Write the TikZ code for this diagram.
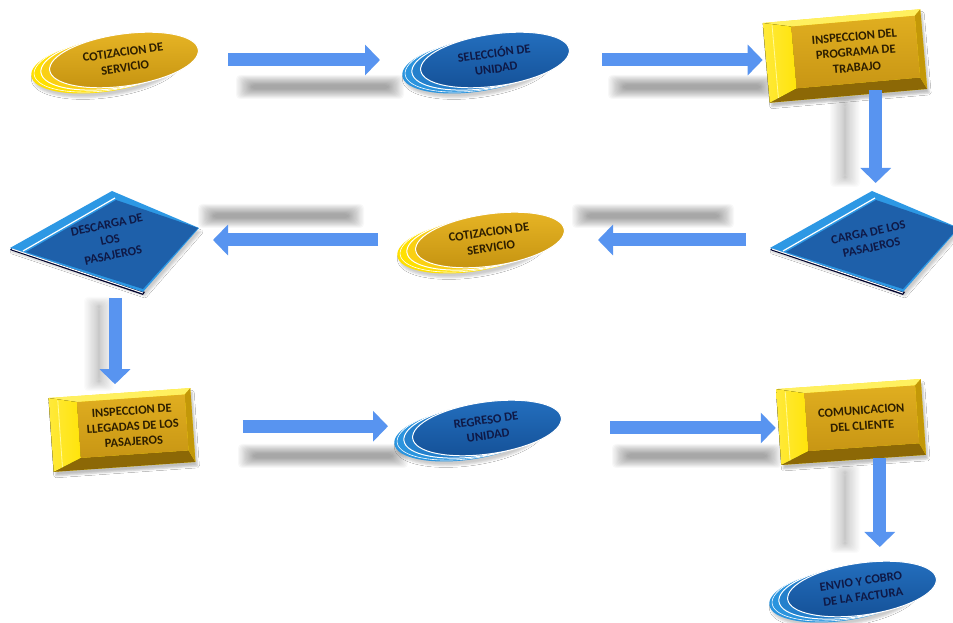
\documentclass[tikz,border=0pt]{standalone}
\usepackage{fontspec}
\setmainfont{Carlito}
\usetikzlibrary{arrows.meta,shapes.geometric,shadows.blur,calc}
\definecolor{yelback}{RGB}{255,224,0}
\definecolor{yelmid}{RGB}{250,208,20}
\definecolor{yeltop}{RGB}{232,182,38}
\definecolor{yelbot}{RGB}{196,146,16}
\definecolor{yeltext}{RGB}{45,30,0}
\definecolor{bluback}{RGB}{42,148,222}
\definecolor{blumid}{RGB}{36,128,204}
\definecolor{blutop}{RGB}{36,112,192}
\definecolor{blubot}{RGB}{20,80,150}
\definecolor{blutext}{RGB}{15,25,70}
\definecolor{arrowblue}{RGB}{88,148,240}
\definecolor{boxtopc}{RGB}{255,240,95}
\definecolor{boxleftc}{RGB}{255,228,10}
\definecolor{boxrightc}{RGB}{195,152,8}
\definecolor{boxbotc}{RGB}{140,104,6}
\definecolor{boxfacetop}{RGB}{224,174,32}
\definecolor{boxfacebot}{RGB}{200,150,20}
\definecolor{diaband}{RGB}{45,152,228}
\definecolor{diaface}{RGB}{30,96,170}
\tikzset{
  labeltext/.style={font=\fontsize{12.5}{15.5}\selectfont\bfseries, align=center},
  egg/.style={ellipse, minimum width=150pt, minimum height=52pt, inner sep=0pt,
    draw=white, line width=1pt, transform shape, labeltext},
  boxface/.style={rectangle, inner sep=0pt, transform shape, labeltext, text=yeltext,
    top color=boxfacetop, bottom color=boxfacebot},
  dianode/.style={labeltext, text=blutext, rotate=12, inner sep=1pt},
  flowarrow/.style={draw=arrowblue, line width=13pt, -{Triangle[width=30pt,length=15pt]}}
}
\newcommand\flowegg[5]{%
  \begin{scope}[shift={(#2,#3)}, rotate=8]
    \fill[#4back, blur shadow={shadow xshift=2pt, shadow yshift=-4pt, shadow opacity=20}]
      (-20,-3) ellipse [x radius=74pt, y radius=26pt];
    \draw[white, line width=0.6pt] (-17,-2) ellipse [x radius=74pt, y radius=26pt];
    \filldraw[#4mid, draw=white, line width=1pt] (-10,-1) ellipse [x radius=74pt, y radius=26pt];
    \node[egg, top color=#4top, bottom color=#4bot, text=#4text] (#1) at (0,0) {#5};
  \end{scope}}
\newcommand\flowbox[7]{%
  \begin{scope}[shift={(#2,#3)}, rotate=#6]
    \pgfmathsetmacro\fbW{#4/2}\pgfmathsetmacro\fbH{#5/2}
    \pgfmathsetmacro\fbL{-\fbW+28}\pgfmathsetmacro\fbR{\fbW-6}
    \pgfmathsetmacro\fbT{\fbH-6}\pgfmathsetmacro\fbB{-\fbH+12}
    \fill[boxleftc, blur shadow={shadow xshift=2pt, shadow yshift=-4pt, shadow opacity=25}]
      (-\fbW,-\fbH) rectangle (\fbW,\fbH);
    \fill[boxtopc] (-\fbW,\fbH) -- (\fbW,\fbH) -- (\fbR,\fbT) -- (\fbL,\fbT) -- cycle;
    \fill[boxbotc] (-\fbW,-\fbH) -- (\fbW,-\fbH) -- (\fbR,\fbB) -- (\fbL,\fbB) -- cycle;
    \fill[boxrightc] (\fbW,\fbH) -- (\fbW,-\fbH) -- (\fbR,\fbB) -- (\fbR,\fbT) -- cycle;
    \fill[left color=boxleftc!80!white, right color=boxleftc]
      (-\fbW,\fbH) -- (-\fbW,-\fbH) -- (\fbL,\fbB) -- (\fbL,\fbT) -- cycle;
    \draw[white!60!yellow, line width=0.8pt] ({-\fbW+9},{\fbH-3}) -- ({-\fbW+9},{-\fbH+4});
    \node[boxface, minimum width={(\fbR-\fbL)*1pt}, minimum height={(\fbT-\fbB)*1pt}]
      (#1) at ({(\fbL+\fbR)/2},{(\fbT+\fbB)/2}) {#7};
  \end{scope}}
\newcommand\flowdiamond[4]{%
  \begin{scope}[shift={(#2,#3)}]
    \fill[black!80!blue] (-106,-10) -- (27,-55) -- (29,-52) -- (-104,-8) -- cycle;
    \fill[diaband, blur shadow={shadow xshift=2pt, shadow yshift=-4pt, shadow opacity=20}]
      (-106,-8) -- (-4,49) -- (83,12) -- (27,-52) -- cycle;
    \fill[diaface] (-90,-12) -- (0,40) -- (82,12) -- (27,-49) -- cycle;
    \draw[white, line width=1.2pt] (-93,-11) -- (-1,42);
    \draw[white, line width=1pt] (-104,-9) -- (27,-53);
    \node[dianode] (#1) at (-6,0) {#4};
  \end{scope}}
\newcommand\shadowbar[5]{%
  \foreach \k in {0,...,13}{%
    \fill[black, opacity=#5, rounded corners=4pt] ({#1+1.2*\k},{#2+0.75*\k}) rectangle ({#3-1.2*\k},{#4-0.75*\k});}}
\begin{document}
\begin{tikzpicture}[x=1pt,y=1pt]
\fill[white] (0,0) rectangle (953,623);
\useasboundingbox (0,0) rectangle (953,623);
% arrow shadows
\shadowbar{236}{524}{404}{548}{0.028}
\shadowbar{608}{524}{776}{548}{0.028}
\shadowbar{572}{395}{734}{419}{0.028}
\shadowbar{198}{395}{364}{419}{0.028}
\shadowbar{238}{155}{408}{179}{0.028}
\shadowbar{612}{155}{782}{179}{0.028}
\shadowbar{830}{436}{860}{528}{0.016}
\shadowbar{84}{232}{114}{326}{0.016}
\shadowbar{830}{70}{860}{160}{0.016}
% nodes
\flowegg{c1}{124}{563}{yel}{COTIZACION DE\\SERVICIO}
\flowegg{s1}{495}{563}{blu}{SELECCIÓN DE\\UNIDAD}
\flowbox{b1}{845}{567}{158}{80}{5}{INSPECCION DEL\\PROGRAMA DE\\TRABAJO}
\flowdiamond{d1}{876}{383}{CARGA DE LOS\\PASAJEROS}
\flowegg{c2}{490}{383}{yel}{COTIZACION DE\\SERVICIO}
\flowdiamond{d2}{116}{383}{DESCARGA DE\\LOS\\PASAJEROS}
\flowbox{b2}{122}{193}{142}{74}{4}{INSPECCION DE\\LLEGADAS DE LOS\\PASAJEROS}
\flowegg{r1}{487}{195}{blu}{REGRESO DE\\UNIDAD}
\flowbox{b3}{851}{201}{145}{76}{4}{COMUNICACION\\DEL CLIENTE}
\flowegg{e1}{862}{34}{blu}{ENVIO Y COBRO\\DE LA FACTURA}
% connectors
\draw[flowarrow, shorten <=104pt, shorten >=115pt] (c1.center) -- (c1.center -| s1.center);
\draw[flowarrow, shorten <=107pt, shorten >=93pt] (s1.center) -- (s1.center -| b1.center);
\draw[flowarrow, shorten <=38pt, shorten >=57pt] ([xshift=20pt]b1.center) -- ([xshift=20pt]b1.center |- d1.center);
\draw[flowarrow, shorten <=124pt, shorten >=108pt] (d1.center) -- (d1.center -| c2.center);
\draw[flowarrow, shorten <=112pt, shorten >=103pt] (c2.center) -- (c2.center -| d2.center);
\draw[flowarrow, shorten <=58pt, shorten >=42pt] ([xshift=5pt]d2.center) -- ([xshift=5pt]d2.center |- b2.center);
\draw[flowarrow, shorten <=110pt, shorten >=99pt] (b2.center) -- (b2.center -| r1.center);
\draw[flowarrow, shorten <=123pt, shorten >=86pt] (r1.center) -- (r1.center -| b3.center);
\draw[flowarrow, shorten <=40pt, shorten >=42pt] ([xshift=18pt]b3.center) -- ([xshift=18pt]b3.center |- e1.center);
\end{tikzpicture}
\end{document}
